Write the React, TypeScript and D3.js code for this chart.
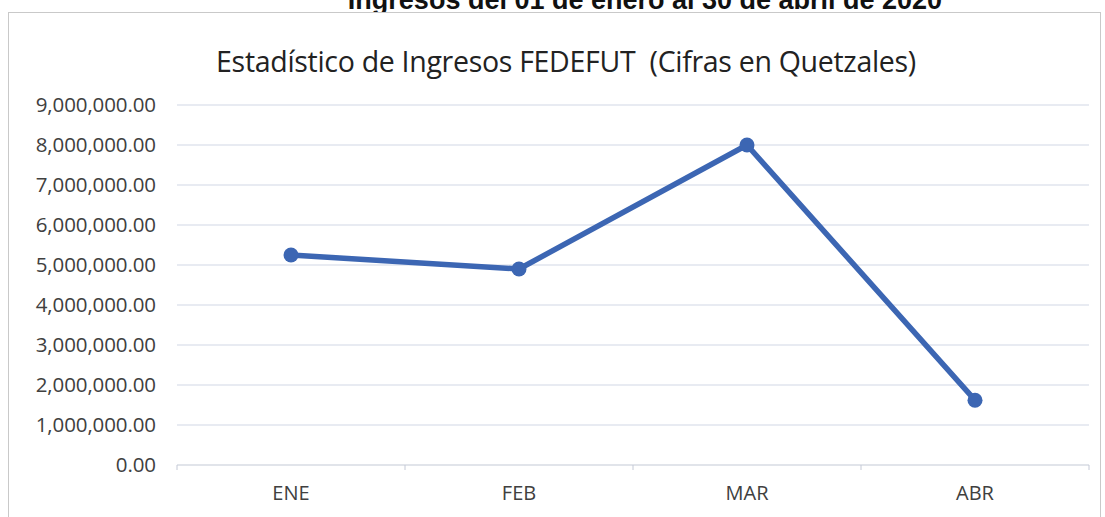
import React from "react";
import * as d3 from "d3";

const categories = ["ENE", "FEB", "MAR", "ABR"];
const ingresos = [5250000, 4900000, 8000000, 1620000];
const yTicks = [0, 1000000, 2000000, 3000000, 4000000, 5000000, 6000000, 7000000, 8000000, 9000000];
const topTitle = "Ingresos del 01 de enero al 30 de abril de 2020";
const chartTitle = "Estadístico de Ingresos FEDEFUT  (Cifras en Quetzales)";

const W = 1105;
const H = 517;
const left = 177;
const right = 1089;
const top = 105;
const bottom = 465;

export default function App() {
  const x = d3.scaleBand<string>().domain(categories).range([left, right]).padding(0);
  const y = d3.scaleLinear().domain([0, 9000000]).range([bottom, top]);
  const fmt = d3.format(",.2f");
  const line = d3
    .line<number>()
    .x((_, i) => (x(categories[i]) as number) + x.bandwidth() / 2)
    .y((d) => y(d));
  const font = "'Open Sans', 'Liberation Sans', sans-serif";
  return (
    <svg width={W} height={H} style={{ position: "absolute", left: 0, top: 0, background: "#fff" }}>
      <rect x={0} y={0} width={W} height={H} fill="#fff" />
      <text x={645} y={9} textAnchor="middle" fontFamily="'Liberation Sans', Arial, sans-serif" fontWeight="bold" fontSize={27} fill="#111">
        {topTitle}
      </text>
      <rect x={8.5} y={12.5} width={1092} height={520} fill="#fff" stroke="#c9c9c9" strokeWidth={1} />
      <text x={566} y={72} textAnchor="middle" fontFamily={font} fontSize={28.5} fill="#222" style={{ whiteSpace: "pre", letterSpacing: "-0.3px" }}>
        {chartTitle}
      </text>
      {yTicks.map((t) => (
        <g key={t}>
          <line x1={left} x2={right} y1={y(t)} y2={y(t)} stroke={t === 0 ? "#c4c9d6" : "#d2d8e6"} strokeWidth={1.2} />
          <text x={156} y={y(t) + 7} textAnchor="end" fontFamily={font} fontSize={20.5} fill="#404040" style={{ letterSpacing: "-0.1px" }}>
            {fmt(t)}
          </text>
        </g>
      ))}
      {categories.map((c) => (
        <g key={c}>
          <line x1={x(c) as number} x2={x(c) as number} y1={bottom} y2={bottom + 5} stroke="#c4c9d6" />
          <text x={(x(c) as number) + x.bandwidth() / 2} y={500} textAnchor="middle" fontFamily={font} fontSize={20} fill="#404040">
            {c}
          </text>
        </g>
      ))}
      <line x1={right} x2={right} y1={bottom} y2={bottom + 5} stroke="#c4c9d6" />
      <path d={line(ingresos) || ""} fill="none" stroke="#3c66b3" strokeWidth={5.5} strokeLinejoin="round" strokeLinecap="round" />
      {ingresos.map((v, i) => (
        <circle key={i} cx={(x(categories[i]) as number) + x.bandwidth() / 2} cy={y(v)} r={7.5} fill="#3c66b3" />
      ))}
    </svg>
  );
}
